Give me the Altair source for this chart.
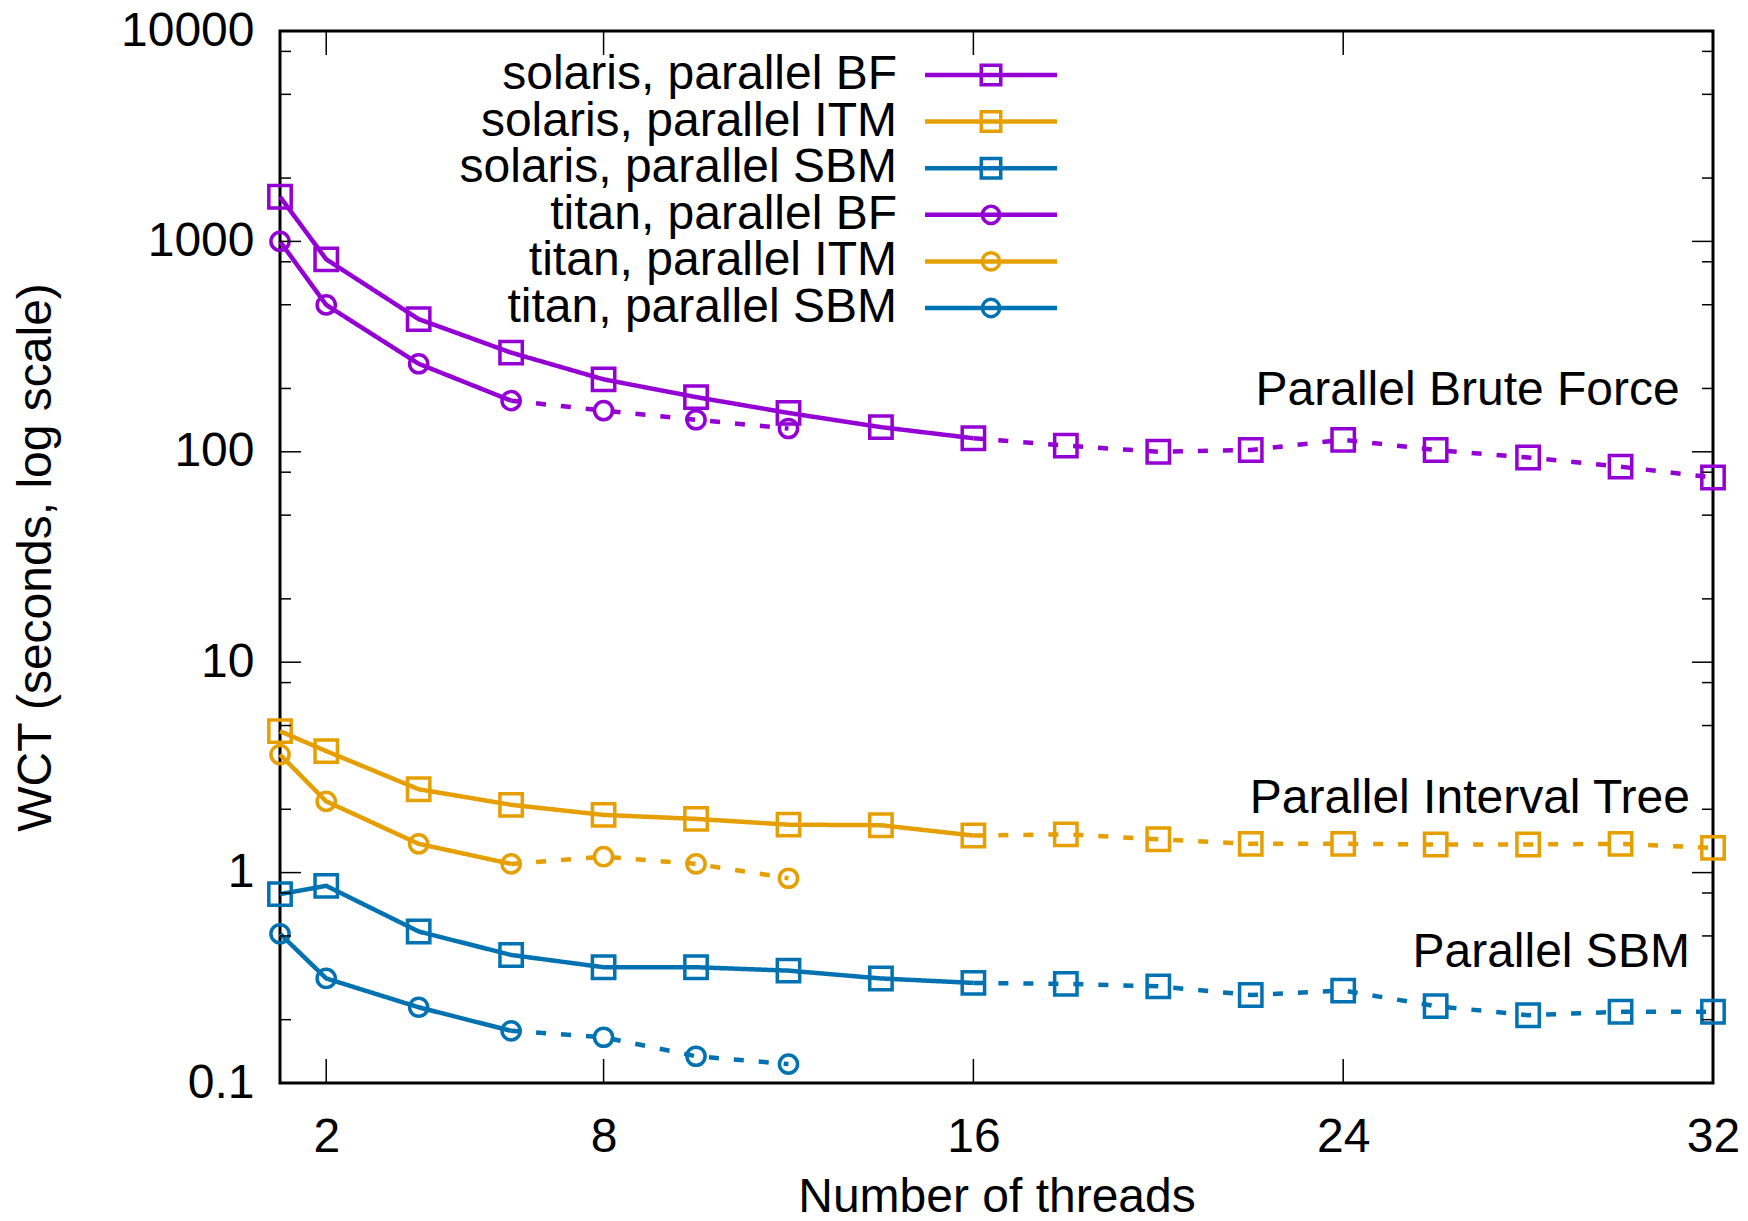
import altair as alt
import pandas as pd

W, H = 1433, 1052
FONT = "Liberation Sans"
FS = 48

solaris_threads = [1, 2, 4, 6, 8, 10, 12, 14, 16, 18, 20, 22, 24, 26, 28, 30, 32]
solaris_bf = [1630, 822, 427, 296, 221, 182, 153, 131, 116, 107, 100, 102, 114, 102, 94, 85, 75.5]
solaris_itm = [4.70, 3.78, 2.49, 2.10, 1.88, 1.80, 1.69, 1.68, 1.50, 1.52, 1.44, 1.37, 1.37, 1.36, 1.36, 1.37, 1.31]
solaris_sbm = [0.79, 0.865, 0.525, 0.406, 0.355, 0.355, 0.342, 0.314, 0.299, 0.296, 0.288, 0.262, 0.275, 0.232, 0.210, 0.218, 0.218]
titan_threads = [1, 2, 4, 6, 8, 10, 12]
titan_bf = [1000, 499, 262, 175, 157, 142, 129]
titan_itm = [3.64, 2.18, 1.37, 1.10, 1.19, 1.10, 0.94]
titan_sbm = [0.512, 0.314, 0.229, 0.177, 0.165, 0.134, 0.123]
solid_until = {"solaris": 16, "titan": 6}

algos = ["BF", "ITM", "SBM"]
colors = ["#9400D3", "#E69F00", "#0072B2"]
machines = ["solaris", "titan"]

x_ticks = [2, 8, 16, 24, 32]
y_major = [0.1, 1, 10, 100, 1000, 10000]
y_minor = [m * d for d in [0.1, 1, 10, 100, 1000] for m in [2, 5, 8]]

notes = ["Parallel Brute Force", "Parallel Interval Tree", "Parallel SBM"]
note_x = [31.28, 31.5, 31.5]
note_y = [195, 2.25, 0.413]

series = [
    ("solaris", "BF", solaris_threads, solaris_bf),
    ("solaris", "ITM", solaris_threads, solaris_itm),
    ("solaris", "SBM", solaris_threads, solaris_sbm),
    ("titan", "BF", titan_threads, titan_bf),
    ("titan", "ITM", titan_threads, titan_itm),
    ("titan", "SBM", titan_threads, titan_sbm),
]

pts, segs = [], []
for m, a, xs_, ys_ in series:
    b = solid_until[m]
    for x, y in zip(xs_, ys_):
        pts.append({"machine": m, "algo": a, "x": x, "y": y})
        if x <= b:
            segs.append({"key": f"{m}-{a}-s", "style": "solid", "algo": a, "x": x, "y": y})
        if x >= b:
            segs.append({"key": f"{m}-{a}-d", "style": "dashed", "algo": a, "x": x, "y": y})
pts = pd.DataFrame(pts)
segs = pd.DataFrame(segs)

legend = pd.DataFrame({
    "label": [f"{m}, parallel {a}" for m, a, _, _ in series],
    "machine": [m for m, _, _, _ in series],
    "algo": [a for _, a, _, _ in series],
    "row": list(range(6)),
})
notes_df = pd.DataFrame({"text": notes, "x": note_x, "y": note_y})

xs = alt.Scale(domain=[1, 32], nice=False, zero=False)
ys = alt.Scale(type="log", domain=[0.1, 10000], nice=False)
cs = alt.Scale(domain=algos, range=colors)
shape_s = alt.Scale(domain=machines, range=["square", "circle"])
size_s = alt.Scale(domain=machines, range=[500, 330])
leg_size_s = alt.Scale(domain=machines, range=[380, 300])
dash_s = alt.Scale(domain=["solid", "dashed"], range=[[1, 0], [10, 15]])
leg_y = alt.Scale(domain=[0, 5], range=[44, 277])

x_axis = alt.Axis(values=x_ticks, ticks=False, tickSize=0, domain=False, grid=False,
                  labelFont=FONT, labelFontSize=FS, labelColor="black", labelPadding=30,
                  labelFlush=False, labelOverlap=False,
                  title="Number of threads", titleFont=FONT, titleFontSize=FS,
                  titleFontWeight="normal", titleColor="black",
                  titleX=W / 2, titleY=114, titleBaseline="middle")
y_axis = alt.Axis(values=y_major, format="~g", ticks=False, tickSize=0, domain=False, grid=False,
                  labelFont=FONT, labelFontSize=FS, labelColor="black", labelPadding=26,
                  labelFlush=False, labelOverlap=False,
                  title="WCT (seconds, log scale)", titleFont=FONT, titleFontSize=FS,
                  titleFontWeight="normal", titleColor="black",
                  titleX=-244, titleY=H / 2, titleBaseline="middle", titleAngle=270)

lines = alt.Chart(segs).mark_line(strokeWidth=4.5).encode(
    x=alt.X("x:Q", scale=xs, axis=x_axis),
    y=alt.Y("y:Q", scale=ys, axis=y_axis),
    color=alt.Color("algo:N", scale=cs, legend=None),
    strokeDash=alt.StrokeDash("style:N", scale=dash_s, legend=None),
    detail="key:N",
)
points = alt.Chart(pts).mark_point(filled=False, strokeWidth=3.5, opacity=1).encode(
    x=alt.X("x:Q", scale=xs, axis=None),
    y=alt.Y("y:Q", scale=ys, axis=None),
    color=alt.Color("algo:N", scale=cs, legend=None),
    shape=alt.Shape("machine:N", scale=shape_s, legend=None),
    size=alt.Size("machine:N", scale=size_s, legend=None),
)

ymaj = pd.DataFrame({"v": y_major})
ymin = pd.DataFrame({"v": y_minor})
xt = pd.DataFrame({"v": x_ticks})
tick_style = dict(color="black", strokeWidth=1.5)
yl_major = alt.Chart(ymaj).mark_rule(**tick_style).encode(
    y=alt.Y("v:Q", scale=ys, axis=None), x=alt.value(0), x2=alt.value(21))
yr_major = alt.Chart(ymaj).mark_rule(**tick_style).encode(
    y=alt.Y("v:Q", scale=ys, axis=None), x=alt.value(W - 21), x2=alt.value(W))
yl_minor = alt.Chart(ymin).mark_rule(**tick_style).encode(
    y=alt.Y("v:Q", scale=ys, axis=None), x=alt.value(0), x2=alt.value(11))
yr_minor = alt.Chart(ymin).mark_rule(**tick_style).encode(
    y=alt.Y("v:Q", scale=ys, axis=None), x=alt.value(W - 11), x2=alt.value(W))
xb = alt.Chart(xt).mark_rule(**tick_style).encode(
    x=alt.X("v:Q", scale=xs, axis=None), y=alt.value(H), y2=alt.value(H - 24))
xtop = alt.Chart(xt).mark_rule(**tick_style).encode(
    x=alt.X("v:Q", scale=xs, axis=None), y=alt.value(0), y2=alt.value(24))

ann = alt.Chart(notes_df).mark_text(font=FONT, fontSize=FS, align="right", baseline="middle",
                                    color="black").encode(
    x=alt.X("x:Q", scale=xs, axis=None),
    y=alt.Y("y:Q", scale=ys, axis=None),
    text="text:N",
)

leg_text = alt.Chart(legend).mark_text(font=FONT, fontSize=FS, align="right", baseline="middle",
                                       color="black").encode(
    x=alt.value(617),
    y=alt.Y("row:Q", scale=leg_y, axis=None),
    text="label:N",
)
leg_line = alt.Chart(legend).mark_rule(strokeWidth=4.5).encode(
    x=alt.value(645), x2=alt.value(777),
    y=alt.Y("row:Q", scale=leg_y, axis=None),
    color=alt.Color("algo:N", scale=cs, legend=None),
)
leg_pt = alt.Chart(legend).mark_point(filled=False, strokeWidth=3.5, opacity=1).encode(
    x=alt.value(711),
    y=alt.Y("row:Q", scale=leg_y, axis=None),
    color=alt.Color("algo:N", scale=cs, legend=None),
    shape=alt.Shape("machine:N", scale=shape_s, legend=None),
    size=alt.Size("machine:N", scale=leg_size_s, legend=None),
)

chart = alt.layer(
    lines, points, yl_major, yr_major, yl_minor, yr_minor, xb, xtop,
    ann, leg_line, leg_pt, leg_text,
).resolve_scale(y="independent", size="independent").resolve_axis(x="independent").properties(
    width=W, height=H,
    autosize=alt.AutoSizeParams(type="none"),
    padding={"left": 272, "top": 23, "right": 27, "bottom": 140},
    background="white",
).configure_view(stroke="black", strokeWidth=3)

chart.save("out.html", embed_options={"renderer": "svg", "actions": False})
